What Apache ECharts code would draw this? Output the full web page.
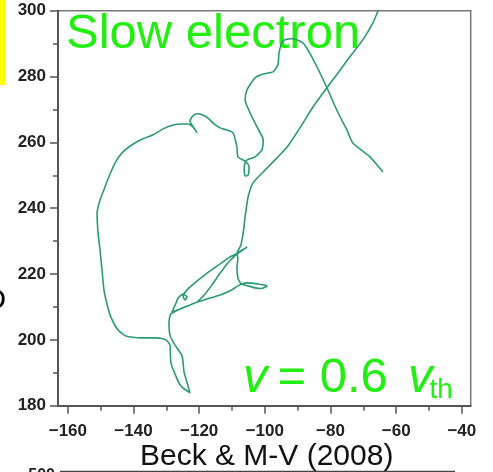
<!DOCTYPE html>
<html>
<head>
<meta charset="utf-8">
<script src="https://cdn.jsdelivr.net/npm/echarts@6/dist/echarts.min.js"></script>
<style>
  html, body { margin: 0; padding: 0; background: #fff; }
  #chart { width: 493px; height: 472px; }
</style>
</head>
<body>
<div id="chart"></div>
<script>
// axis ticks
var xMajor = [-160, -140, -120, -100, -80, -60, -40];
var xMinor = [-150, -130, -110, -90, -70, -50];
var yRange = [180, 300];

// trajectory, in drawing order
var upperWiggle = [
  [-64.0, 251.0], [-68.0, 255.6], [-73.2, 259.8], [-75.0, 263.8], [-77.7, 269.0],
  [-81.1, 276.6], [-84.1, 282.9], [-86.9, 288.1], [-88.4, 290.2], [-91.4, 291.5],
  [-93.9, 291.2], [-94.8, 290.2], [-95.7, 287.2], [-96.0, 283.6], [-97.5, 281.4],
  [-100.5, 280.8], [-103.0, 279.6], [-105.4, 276.0], [-106.0, 272.9], [-104.5, 269.0],
  [-102.4, 264.7], [-100.5, 260.8], [-100.9, 257.7], [-103.0, 255.6], [-105.4, 254.7],
  [-106.0, 253.8]
];
var smallLoop = [
  [-106.3, 251.9], [-106.0, 249.8], [-105.1, 250.1], [-104.8, 252.6], [-105.7, 254.1],
  [-108.2, 255.6], [-108.5, 258.6], [-109.7, 262.9], [-111.8, 263.8], [-113.6, 264.4],
  [-115.5, 265.6], [-117.3, 267.4], [-119.1, 268.4], [-120.6, 268.7], [-121.9, 268.1],
  [-122.8, 266.5], [-121.6, 264.4], [-120.6, 262.9], [-121.9, 264.7], [-123.4, 265.6]
];
var leftLobe = [
  [-125.2, 265.6], [-127.9, 265.3], [-131.0, 264.1], [-134.0, 262.3], [-137.1, 261.1],
  [-140.1, 259.5], [-143.5, 256.8], [-145.6, 253.8], [-147.4, 249.8], [-149.0, 245.6],
  [-150.2, 242.5], [-151.1, 238.6], [-150.8, 232.5], [-150.2, 227.3], [-149.6, 221.2],
  [-149.0, 215.2], [-148.0, 210.6], [-146.8, 206.7], [-144.7, 203.0], [-142.3, 201.2],
  [-138.0, 200.6], [-132.8, 200.6], [-130.1, 200.0], [-128.9, 198.4]
];
var spindle = [
  [-128.6, 193.0], [-125.8, 186.3], [-122.8, 183.9], [-123.3, 185.7], [-124.6, 190.2],
  [-125.2, 195.1], [-127.6, 198.8], [-128.9, 201.5], [-129.2, 205.4], [-128.6, 207.9]
];
var knot = [
  [-125.8, 209.4], [-122.8, 210.6], [-120.6, 211.5], [-122.8, 210.6], [-125.8, 209.4],
  [-128.3, 208.5], [-127.3, 210.6], [-126.4, 212.7], [-124.9, 213.9], [-123.7, 213.0],
  [-124.3, 212.1], [-124.9, 213.3], [-123.4, 215.5], [-120.6, 217.9], [-117.6, 220.3],
  [-113.6, 223.1], [-110.6, 225.2], [-108.8, 226.1], [-106.9, 227.3], [-105.4, 228.2],
  [-107.6, 226.7], [-108.8, 225.8], [-111.2, 223.4], [-113.6, 220.3], [-116.1, 216.7],
  [-118.5, 213.6], [-120.6, 211.5], [-116.7, 212.7], [-113.6, 213.6], [-110.6, 214.9],
  [-107.6, 216.7], [-105.4, 217.3], [-102.4, 217.0], [-99.3, 216.4], [-100.9, 215.6],
  [-103.0, 215.8], [-105.1, 216.4], [-107.2, 217.0], [-108.2, 218.8], [-108.5, 221.9],
  [-108.2, 224.9], [-108.5, 226.1]
];
var longDiagonal = [
  [-107.3, 228.8], [-106.6, 232.5], [-106.0, 237.4], [-105.1, 243.4], [-103.6, 247.7],
  [-100.5, 251.0], [-96.3, 255.3], [-93.2, 258.6], [-89.3, 264.4], [-85.3, 270.8],
  [-81.1, 276.6], [-77.7, 281.1], [-74.1, 286.0], [-70.1, 291.2], [-67.1, 296.3],
  [-65.5, 300.0]
];

var path = [].concat(upperWiggle, smallLoop, leftLobe, spindle, knot, longDiagonal);

var FONT = 'Liberation Sans, Arial, Helvetica, sans-serif';
var GREEN = '#22ee11';
var AXIS = '#555';

var minusLabel = function (v) {
  return v < 0 ? '\u2212' + Math.abs(v) : String(v);
};

var chart = echarts.init(document.getElementById('chart'));
chart.setOption({
  animation: false,
  grid: {
    left: 58, right: 22.3, top: 10.7, bottom: 66.3,
    show: true, borderColor: '#777', borderWidth: 1.5,
    outerBoundsMode: 'none'
  },
  xAxis: [{
    type: 'value', position: 'bottom', min: -163, max: -37.3,
    splitLine: { show: false },
    axisLine: { lineStyle: { color: AXIS, width: 2 } },
    axisTick: { customValues: xMajor, length: 8, lineStyle: { color: AXIS, width: 1.5 } },
    axisLabel: {
      customValues: xMajor, formatter: minusLabel, margin: 17,
      fontFamily: FONT, fontWeight: 'bold', fontSize: 17, color: '#222'
    }
  }, {
    type: 'value', position: 'bottom', min: -163, max: -37.3,
    splitLine: { show: false },
    axisLine: { show: false },
    axisTick: { customValues: xMinor, length: 5, lineStyle: { color: AXIS, width: 1.5 } },
    axisLabel: { show: false }
  }],
  yAxis: {
    type: 'value', min: yRange[0], max: yRange[1], interval: 20,
    splitLine: { show: false },
    axisLine: { show: true, lineStyle: { color: AXIS, width: 2 } },
    axisTick: { length: 8, lineStyle: { color: AXIS, width: 1.5 } },
    minorTick: { show: true, splitNumber: 2, length: 5, lineStyle: { color: AXIS, width: 1.5 } },
    axisLabel: {
      margin: 12, padding: [8, 0, 0, 0],
      fontFamily: FONT, fontWeight: 'bold', fontSize: 17, color: '#222'
    }
  },
  series: [{
    type: 'line',
    xAxisIndex: 0,
    data: path,
    showSymbol: false,
    smooth: 0.2,
    lineStyle: { color: '#2b9a74', width: 1.6 }
  }],
  graphic: [
    { type: 'rect', shape: { x: 0, y: 0, width: 5, height: 85 }, style: { fill: '#ffff00' } },
    { type: 'text', style: { text: 'O', x: 6, y: 301, align: 'right', verticalAlign: 'middle',
        font: '30px ' + FONT, fill: '#000' } },
    { type: 'text', style: { text: 'Slow electron', x: 66, y: 34.5, align: 'left', verticalAlign: 'middle',
        font: '49px ' + FONT, fill: GREEN } },
    { type: 'text', style: { text: 'v', x: 243, y: 378, align: 'left', verticalAlign: 'middle',
        font: 'italic 49px ' + FONT, fill: GREEN } },
    { type: 'text', style: { text: '= 0.6', x: 277.5, y: 378, align: 'left', verticalAlign: 'middle',
        font: '49px ' + FONT, fill: GREEN } },
    { type: 'text', style: { text: 'v', x: 408, y: 378, align: 'left', verticalAlign: 'middle',
        font: 'italic 49px ' + FONT, fill: GREEN } },
    { type: 'text', style: { text: 'th', x: 429.5, y: 390.3, align: 'left', verticalAlign: 'middle',
        font: '28px ' + FONT, fill: GREEN } },
    { type: 'text', style: { text: 'Beck & M-V (2008)', x: 140, y: 456.6, align: 'left', verticalAlign: 'middle',
        font: '30px ' + FONT, fill: '#111' } },
    { type: 'text', style: { text: '500', x: 55, y: 476, align: 'right', verticalAlign: 'middle',
        font: 'bold 16px ' + FONT, fill: '#222' } },
    { type: 'line', shape: { x1: 60, y1: 471.5, x2: 455, y2: 471.5 }, style: { stroke: '#444', lineWidth: 1.5 } }
  ]
});
</script>
</body>
</html>
